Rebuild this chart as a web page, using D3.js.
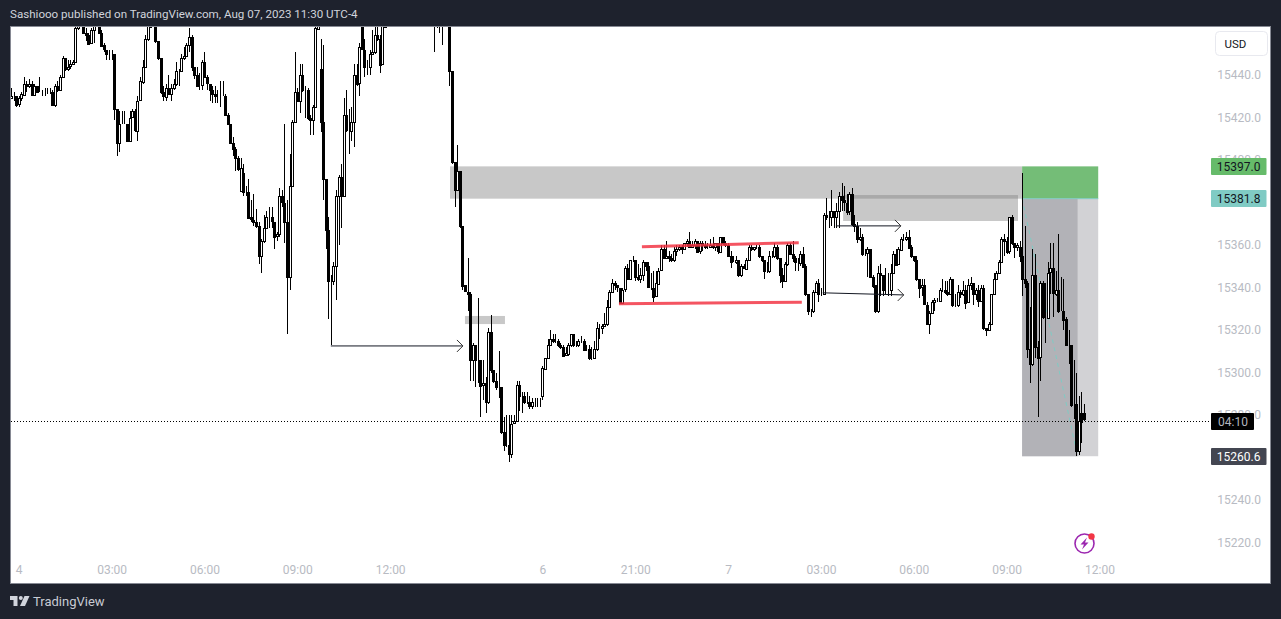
<!DOCTYPE html>
<html><head><meta charset="utf-8"><style>html,body{margin:0;padding:0;background:#1e222d;overflow:hidden}svg{display:block}text{font-family:Roboto,"Liberation Sans",sans-serif}</style>
<script src="https://cdn.jsdelivr.net/npm/d3@7/dist/d3.min.js"></script></head><body><svg id="c" width="1281" height="619"></svg>
<script>
const base=15000;
const opens=[429,430,430,426,429,431,436,435,436,431,435,432,432,432,432,432,432,426,435,433,439,448,443,444,445,446,462,464,468,460,459,455,461,465,466,460,454,452,450,450,450,424,408,417,417,417,409,420,423,414,428,437,444,457,463,468,469,456,448,432,430,434,431,434,436,442,442,448,449,454,458,444,440,435,435,446,439,436,433,431,430,430,430,430,421,417,408,405,401,385,394,385,385,373,372,371,369,355,362,368,373,373,371,364,365,383,380,371,345,388,418,432,428,440,433,433,420,419,425,462,443,418,391,367,343,343,350,383,392,383,421,414,414,418,440,436,463,452,444,444,450,451,459,457,445,463,468,472,470,475,478,476,480,483,481,485,487,484,482,479,476,473,475,472,470,468,470,472,470,473,471,442,399,386,395,369,341,338,337,306,313,306,306,294,295,286,319,301,296,293,293,272,266,266,262,276,277,294,289,289,286,286,284,286,286,286,289,302,307,313,316,315,315,313,312,308,309,313,318,313,313,315,315,311,311,307,307,311,321,321,322,323,331,338,342,341,340,333,339,349,344,353,353,345,344,346,352,350,340,340,336,342,348,358,354,355,354,353,357,358,359,358,361,362,359,360,362,357,361,360,359,359,360,359,361,357,364,361,360,355,352,352,353,346,350,349,353,359,358,359,359,355,353,348,348,355,355,359,354,346,343,351,360,356,354,352,352,356,350,337,329,329,338,342,337,337,374,373,373,376,373,376,383,381,380,376,384,370,369,363,364,356,356,358,345,341,329,347,346,339,339,339,347,356,351,358,363,363,364,359,355,353,344,340,341,332,323,328,333,334,334,339,339,338,337,344,332,332,338,337,339,333,341,342,337,339,334,340,321,320,323,337,344,347,352,363,362,357,373,361,359,359,355,344,342,311,304,346,312,307,342,326,326,347,349,337,339,329,329,325,313,313,285,285,263,281,281];
const closes=[430,430,426,429,431,436,435,436,431,435,432,432,432,432,432,432,426,435,433,439,448,443,444,445,446,462,464,468,460,459,455,461,465,466,460,454,452,450,450,450,424,408,417,417,417,409,420,423,414,428,437,444,457,463,468,469,456,448,432,430,434,431,434,436,442,442,448,449,454,458,444,440,435,435,446,439,436,433,431,430,430,430,430,421,417,408,405,401,396,396,385,385,373,372,371,369,355,362,368,373,373,371,364,365,383,380,371,345,388,418,432,428,440,433,433,420,419,425,462,468,418,391,367,343,343,350,383,392,383,421,414,414,418,440,436,453,452,444,444,450,451,459,457,445,463,468,472,470,475,478,476,480,483,481,485,487,484,482,479,476,473,475,472,470,468,470,472,470,473,471,442,399,386,395,369,341,338,337,306,313,306,306,294,295,286,319,301,296,293,293,272,266,266,262,276,277,294,289,289,286,286,284,286,286,286,286,302,307,313,316,315,315,313,312,308,309,313,318,313,313,315,315,311,311,307,307,311,321,321,322,323,331,338,342,341,340,333,339,349,344,353,353,345,344,346,352,350,340,340,336,342,348,358,354,355,354,353,357,358,359,358,361,362,359,360,362,357,361,360,359,359,360,359,361,357,364,361,360,355,352,352,353,346,350,349,353,359,358,359,359,355,353,348,348,355,355,359,354,346,343,351,360,356,354,352,352,356,350,337,329,329,338,342,337,337,374,373,373,376,373,376,383,381,380,376,384,370,369,363,364,356,356,358,345,341,329,347,346,339,339,339,347,356,351,358,363,363,364,359,355,353,344,340,341,332,323,328,333,334,334,339,339,338,337,344,332,332,338,337,339,333,341,342,337,339,334,340,321,320,323,337,344,347,352,363,362,357,373,361,359,360,355,344,342,311,304,346,312,307,342,326,326,347,349,337,339,329,329,325,313,313,285,285,263,277,277,278];
const highs=[434,432,430,430,432,439,437,438,437,436,435,439,433,434,434,434,433,436,437,440,449,448,447,447,447,466,467,471,468,462,460,462,468,470,468,461,455,452,452,452,450,424,423,423,423,417,423,424,424,430,439,447,459,466,471,472,468,456,448,435,436,440,436,438,446,443,450,453,455,462,459,444,444,441,447,451,440,436,435,435,433,437,437,431,422,417,411,406,402,401,398,388,391,381,384,377,371,363,374,376,378,378,371,366,387,386,417,381,403,419,451,434,445,445,435,434,421,426,468,473,457,454,391,373,346,352,386,393,398,429,433,424,425,445,445,455,466,457,447,452,461,463,465,459,466,471,475,476,478,482,481,484,487,486,488,491,489,486,484,481,478,479,477,474,472,474,475,474,476,475,471,442,396,407,395,368,341,354,338,314,313,335,306,306,298,321,327,301,300,310,293,279,280,280,280,280,296,296,291,291,291,289,288,288,288,288,303,307,316,320,318,318,316,314,313,312,314,318,318,315,316,317,316,313,313,312,315,324,323,323,328,334,339,344,343,341,339,340,350,351,353,355,353,351,349,353,352,352,347,348,348,349,360,360,362,357,356,359,360,360,360,361,363,366,362,363,362,362,362,362,361,363,364,361,361,364,364,362,361,357,355,355,353,351,351,354,360,360,359,360,360,355,353,352,357,357,361,360,354,349,352,361,361,362,355,354,357,359,351,337,330,339,343,344,340,375,382,376,386,376,380,385,389,388,384,385,387,374,371,368,365,358,359,358,346,341,350,351,344,349,347,351,357,358,359,364,365,366,367,360,355,355,344,344,344,333,329,334,335,335,340,344,343,343,345,344,337,341,339,343,341,344,345,342,340,341,341,341,321,324,337,347,348,353,364,365,364,373,374,361,361,362,394,369,343,331,358,356,315,343,343,342,352,361,361,348,365,345,344,326,320,304,306,300,289,291,285];
const lows=[429,428,425,425,428,431,432,434,430,432,432,432,430,430,431,431,426,425,432,433,439,442,442,443,445,446,461,465,460,456,455,455,455,464,460,453,451,447,447,447,419,402,404,417,417,409,410,420,413,409,428,436,444,456,464,465,455,447,431,428,428,431,428,433,435,435,442,447,449,451,442,438,435,433,433,439,433,428,427,427,427,425,430,421,417,408,402,395,395,393,383,383,373,371,369,368,351,347,361,368,368,368,358,362,364,378,361,318,339,388,418,428,422,432,420,419,412,412,425,465,413,381,358,325,313,341,334,360,368,383,413,403,409,406,435,430,452,439,440,440,450,450,456,441,445,464,467,468,469,474,473,475,479,478,480,483,481,479,476,473,470,471,469,467,451,462,460,454,468,466,435,398,378,386,368,339,338,329,296,296,293,295,279,287,281,285,300,295,292,288,271,263,265,258,260,276,277,282,281,285,285,283,283,284,284,284,287,302,307,313,314,314,312,311,308,308,308,312,312,312,312,314,310,310,306,306,307,310,316,318,323,322,331,338,339,338,333,333,338,344,344,352,343,343,342,343,348,340,339,333,336,342,348,354,354,352,352,352,355,357,356,358,359,359,359,358,357,356,357,358,358,359,358,357,356,357,360,359,355,349,352,351,345,345,349,349,353,357,357,358,354,352,344,347,347,354,354,353,342,340,343,350,356,352,348,348,350,350,336,327,326,328,338,333,336,337,372,368,369,368,368,368,376,376,374,374,369,366,361,362,355,355,345,345,340,328,328,336,336,337,336,336,347,351,352,357,362,362,359,354,352,343,335,336,332,323,318,328,329,333,333,338,337,336,337,331,331,331,335,336,330,333,339,332,334,331,333,320,317,320,323,337,344,347,352,355,356,356,360,354,357,352,336,340,307,295,303,307,279,296,325,314,325,337,326,336,328,329,320,313,304,284,278,260.6,261,267,277];
const priceTicks=[15440,15420,15400,15380,15360,15340,15320,15300,15280,15260,15240,15220];
const timeTickBars=[3,39,75,111,147,206,242,278,314,350,386,422];
const timeTickLabels=["4","03:00","06:00","09:00","12:00","6","21:00","7","03:00","06:00","09:00","12:00"];
const zoneBig=[170.2,392,15397,15381.8];const zoneMid=[322.6,390.4,15383.5,15371.3];const zoneSmall=[176,191.5,15326.6,15322.8];
const posBars=[392,421.5],posEntry=15381.8,posTarget=15397,posStop=15260.6,posEndBar=413.5;
const redLines=[[244.6,15359.2,305.4,15361.1],[235.7,15332.4,306.6,15333.1]];
const arrows=[[124,15312.5,175.2,15312.5],[319.8,15369,345,15369],[314.7,15337.5,346.1,15336.5]];
const lastPrice=15276.8;
const tags=[[15397,"15397.0","#66bb6a","#131722",55.5],[15381.8,"15381.8","#80cbc4","#131722",55.5],[lastPrice,"04:10","#000000","#b2b5be",43],[15260.6,"15260.6","#434651","#ffffff",55.5]];

const svg=d3.select("#c");
const L=10.5,T=26.5,R=1270.5,B=583.5;
const x=d3.scaleLinear().domain([0,422]).range([11,1099.5]);
const y=d3.scaleLinear().domain([15440,15220]).range([75,542.5]);
svg.append("text").attr("x",10).attr("y",18).attr("fill","#d1d4dc").attr("font-size",11.6).text("Sashiooo published on TradingView.com, Aug 07, 2023 11:30 UTC-4");
svg.append("rect").attr("x",L).attr("y",T).attr("width",R-L).attr("height",B-T).attr("fill","#fff").attr("stroke","#868993");
svg.append("defs").append("clipPath").attr("id","pane").append("rect").attr("x",11).attr("y",27).attr("width",1199).attr("height",556);
const pane=svg.append("g").attr("clip-path","url(#pane)");
const zone=(z,fill)=>pane.append("rect").attr("x",x(z[0])).attr("y",y(z[2])).attr("width",x(z[1])-x(z[0])).attr("height",y(z[3])-y(z[2])).attr("fill",fill);
const gray="rgba(128,128,128,0.43)";
zone(zoneBig,gray);zone(zoneMid,gray);zone(zoneSmall,gray);
// long/short position tool
pane.append("rect").attr("x",x(posBars[0])).attr("y",y(posEntry)).attr("width",x(posBars[1])-x(posBars[0])).attr("height",y(posStop)-y(posEntry)).attr("fill","#d2d2d5");
pane.append("rect").attr("x",x(posBars[0])).attr("y",y(posEntry)).attr("width",x(posEndBar)-x(posBars[0])).attr("height",y(posStop)-y(posEntry)).attr("fill","#b2b2b7");
pane.append("rect").attr("x",x(posBars[0])).attr("y",y(posTarget)).attr("width",x(posBars[1])-x(posBars[0])).attr("height",y(posEntry)-y(posTarget)).attr("fill","#74bd77");
pane.append("line").attr("x1",x(posBars[0])).attr("x2",x(posBars[1])).attr("y1",y(posEntry)).attr("y2",y(posEntry)).attr("stroke","#80cbc4");
pane.append("line").attr("x1",x(posBars[0])).attr("x2",x(posEndBar)).attr("y1",y(posEntry)).attr("y2",y(posStop)).attr("stroke","#80cbc4").attr("stroke-dasharray","4 4");
// dotted last price line
svg.append("line").attr("x1",11).attr("x2",1211).attr("y1",Math.floor(y(lastPrice))+.5).attr("y2",Math.floor(y(lastPrice))+.5).attr("stroke","#000").attr("stroke-dasharray","1 2");
// candles
const candles=closes.map((c,i)=>({i,o:opens[i]+base,c:c+base,h:highs[i]+base,l:lows[i]+base}));
const cg=pane.append("g").attr("shape-rendering","crispEdges");
const sel=cg.selectAll("g").data(candles).join("g");
sel.append("line").attr("x1",d=>Math.round(x(d.i))+.5).attr("x2",d=>Math.round(x(d.i))+.5).attr("y1",d=>y(d.h)).attr("y2",d=>y(d.l)).attr("stroke","#000");
sel.append("rect").attr("x",d=>Math.round(x(d.i))-.5).attr("width",2).attr("y",d=>Math.round(y(Math.max(d.o,d.c)))+.5).attr("height",d=>Math.max(0,Math.round(Math.abs(y(d.o)-y(d.c))))).attr("fill",d=>d.c>=d.o?"#fff":"#000").attr("stroke","#000");
// red lines
pane.selectAll(".red").data(redLines).join("line").attr("x1",d=>x(d[0])).attr("y1",d=>y(d[1])).attr("x2",d=>x(d[2])).attr("y2",d=>y(d[3])).attr("stroke","#f23645").attr("stroke-opacity",.85).attr("stroke-width",3);
// arrows
const ag=pane.selectAll(".arr").data(arrows).join("g");
ag.append("line").attr("x1",d=>x(d[0])).attr("y1",d=>y(d[1])).attr("x2",d=>x(d[2])).attr("y2",d=>y(d[3])).attr("stroke","#131722");
ag.append("path").attr("fill","none").attr("stroke","#333").attr("d",d=>{const a=x(d[2]),b=y(d[3]);return `M${a-6} ${b-6}L${a} ${b}L${a-6} ${b+6}`});
// axes
const yAxis=d3.axisRight(y).tickValues(priceTicks).tickSize(0).tickFormat(d=>d3.format(".1f")(d));
const ya=svg.append("g").attr("transform","translate(1211,0)").call(yAxis);ya.select(".domain").remove();
ya.selectAll("text").attr("x",50).attr("text-anchor","end").attr("fill","#b8bbc3").attr("font-size",12).style("font-family","Roboto");
const xAxis=d3.axisBottom(x).tickValues(timeTickBars).tickSize(0).tickFormat((d,i)=>timeTickLabels[i]);
const xa=svg.append("g").attr("transform","translate(0,562)").call(xAxis);xa.select(".domain").remove();
xa.selectAll("text").attr("fill","#b8bbc3").attr("font-size",12).style("font-family","Roboto");
// USD button
svg.append("rect").attr("x",1215.5).attr("y",31.5).attr("width",52).attr("height",24).attr("rx",4).attr("fill","#fff").attr("stroke","#e8e9ef");
svg.append("text").attr("x",1224.5).attr("y",48).attr("font-size",11.5).attr("fill","#131722").text("USD");
// tags
const tg=svg.selectAll(".tag").data(tags).join("g");
tg.append("rect").attr("x",1211).attr("y",d=>Math.floor(y(d[0]))-8).attr("width",d=>d[4]).attr("height",17).attr("rx",1).attr("fill",d=>d[2]);
tg.append("text").attr("x",d=>1211+d[4]-6).attr("y",d=>Math.floor(y(d[0]))+4.8).attr("text-anchor","end").attr("font-size",12).attr("fill",d=>d[3]).text(d=>d[1]);
// zap icon
const zap=svg.append("g").attr("transform","translate(1084.5,543.5)");
zap.append("circle").attr("r",9.5).attr("fill","#fff").attr("stroke","#9c27b0").attr("stroke-width",1.6);
zap.append("path").attr("d","M2.5 -6L-4 1H-0.5L-2.5 6L4 -1H0.5Z").attr("fill","#9c27b0");
svg.append("circle").attr("cx",1091.5).attr("cy",536.5).attr("r",3.2).attr("fill","#f23645");
// logo
const logo=svg.append("g").attr("fill","#d1d4dc");
logo.append("path").attr("d","M10 596H17.5V606H13.5V600H10Z");
logo.append("circle").attr("cx",20.8).attr("cy",598).attr("r",2);
logo.append("path").attr("d","M24.5 596H29.5L25 606H20Z");
svg.append("text").attr("x",33).attr("y",606).attr("font-size",13).attr("fill","#c8cbd3").text("TradingView");
</script></body></html>
